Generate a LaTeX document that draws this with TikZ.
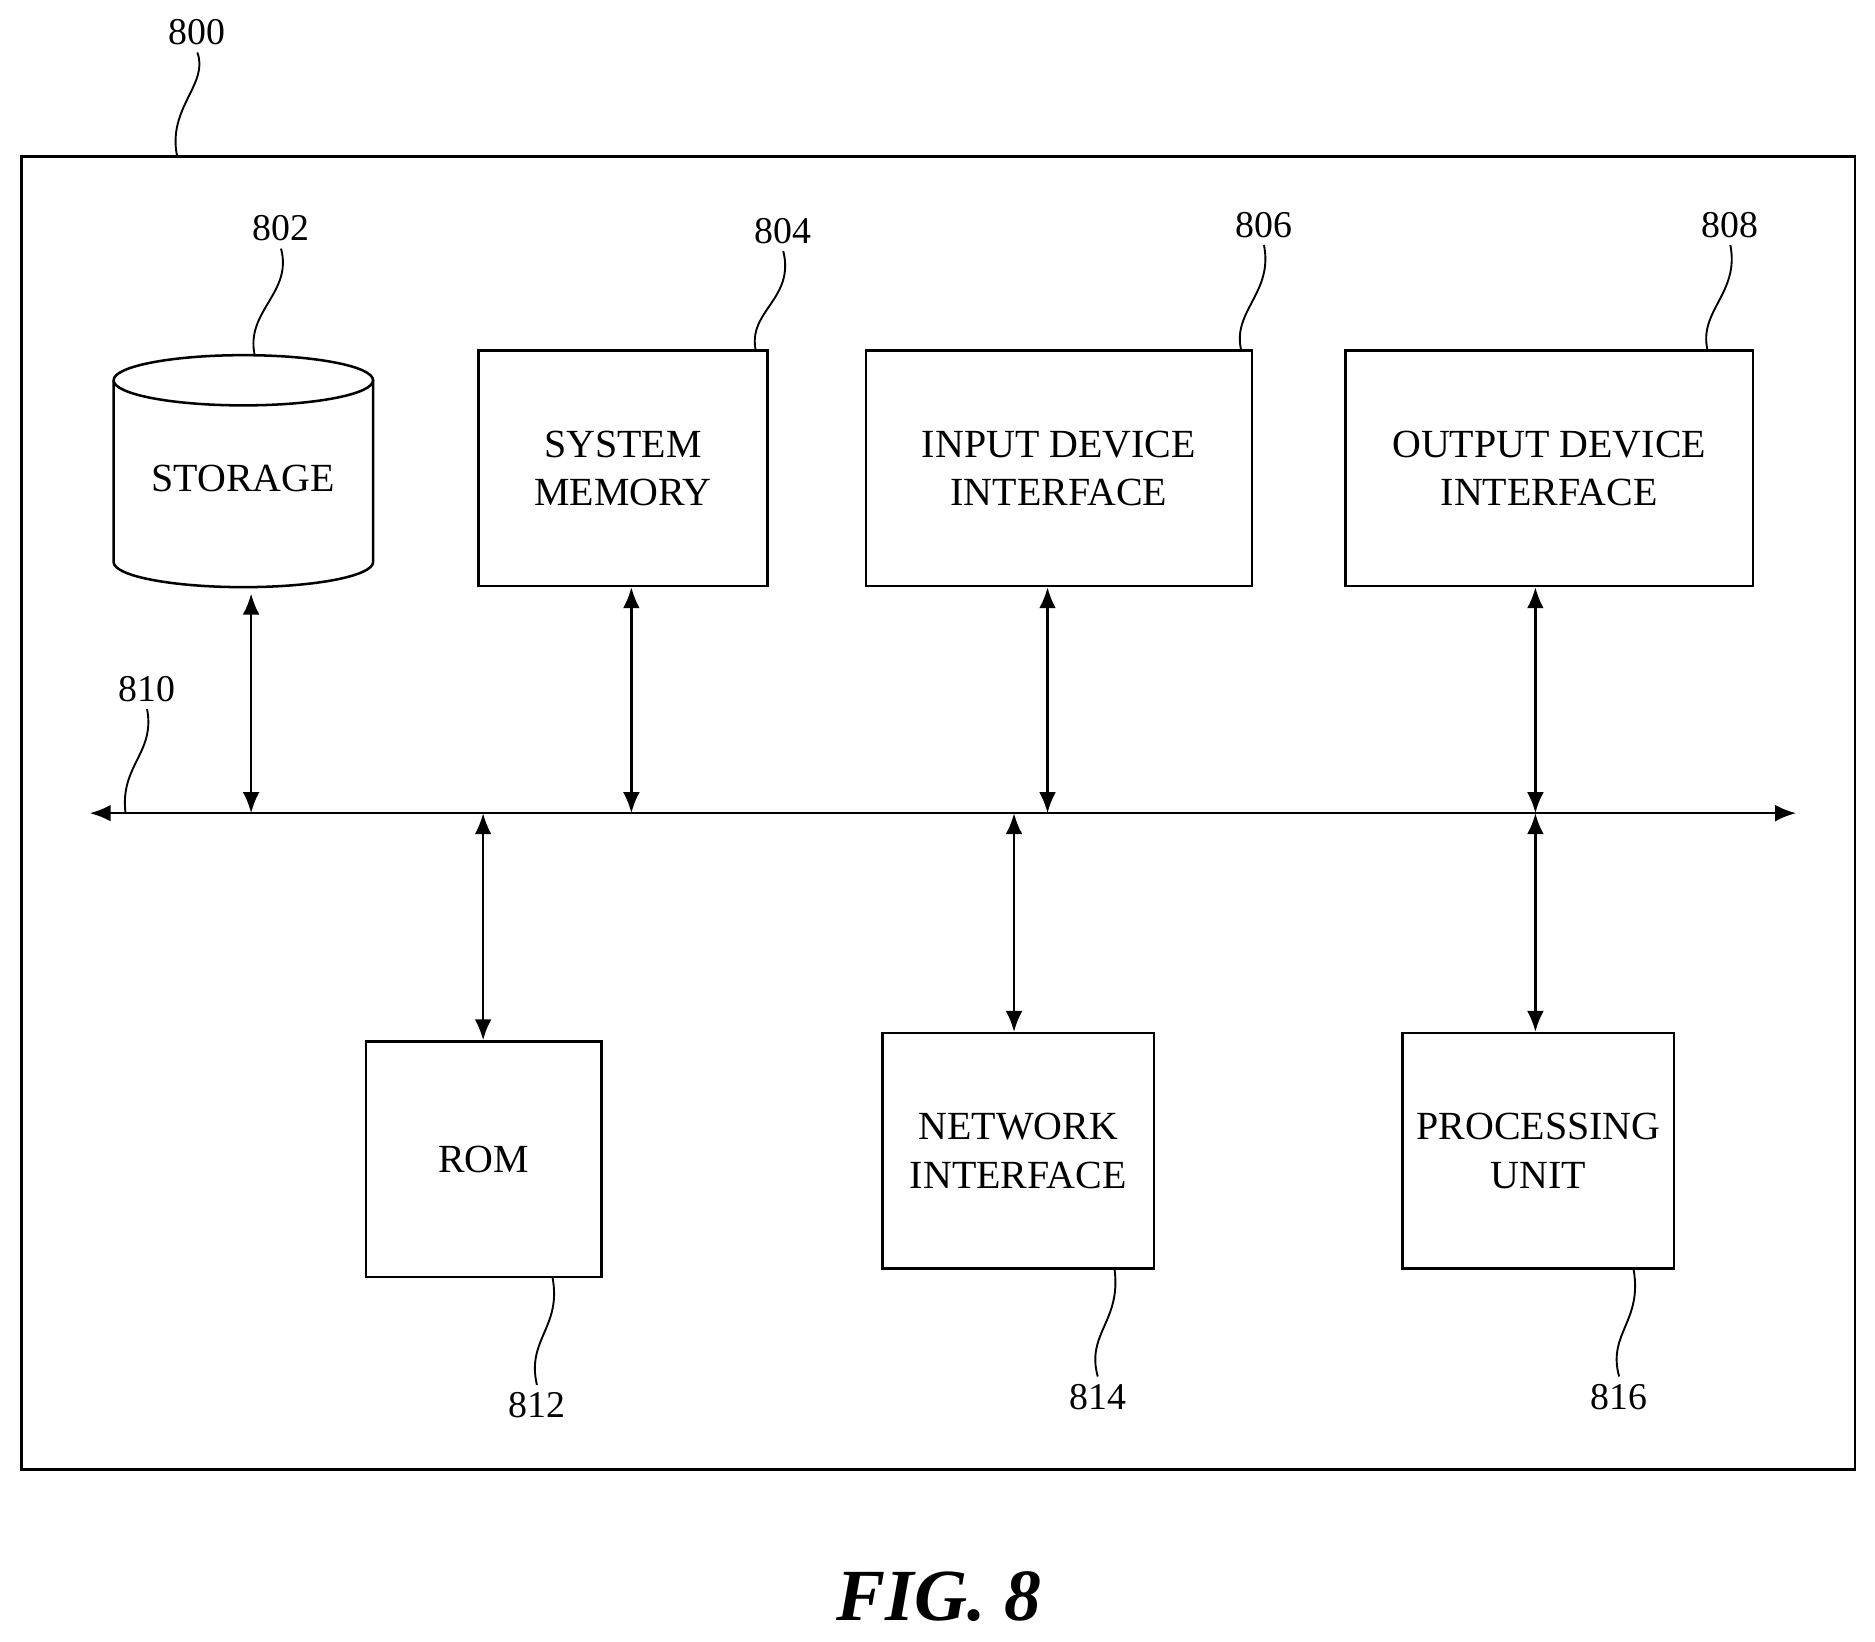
\documentclass[tikz,border=0pt]{standalone}
\usepackage{fontspec}
\setmainfont{Liberation Serif}
\usetikzlibrary{arrows.meta}
\begin{document}
\begin{tikzpicture}[x=0.02cm,y=-0.02cm,
  box/.style={draw,line width=1.2pt,minimum width=#1,inner sep=0pt,align=center,font=\fontsize{19}{23}\selectfont},
  lab/.style={font=\fontsize{18}{20}\selectfont},
  lead/.style={line width=0.9pt},
  arr/.style={line width=1.2pt,{Latex[length=10pt,width=8pt]}-{Latex[length=10pt,width=8pt]}}]
\useasboundingbox (0,0) rectangle (1568,1373);
\node[draw,line width=1.2pt,minimum width=1533*0.02cm,minimum height=1098*0.02cm,anchor=north west] (frame) at (17,130) {};
% storage cylinder
\draw[line width=1.2pt] (95,318) -- (95,470) arc[start angle=180,end angle=360,x radius=108.5,y radius=-21] -- (312,318);
\draw[line width=1.2pt] (203.5,318) ellipse[x radius=108.5,y radius=21];
\node[font=\fontsize{19}{23}\selectfont,minimum width=217*0.02cm,minimum height=192*0.02cm] (sto) at (203.5,400) {STORAGE};
\node[box,minimum width=242*0.02cm,minimum height=197*0.02cm] (mem) at (521,391.5) {SYSTEM\\MEMORY};
\node[box,minimum width=323*0.02cm,minimum height=197*0.02cm] (in) at (885.5,391.5) {INPUT DEVICE\\INTERFACE};
\node[box,minimum width=341*0.02cm,minimum height=197*0.02cm] (out) at (1295.5,391.5) {OUTPUT DEVICE\\INTERFACE};
\node[box,minimum width=197*0.02cm,minimum height=197*0.02cm] (rom) at (404.5,969.5) {ROM};
\node[box,minimum width=227*0.02cm,minimum height=197*0.02cm] (net) at (851.5,962.5) {NETWORK\\INTERFACE};
\node[box,minimum width=227*0.02cm,minimum height=197*0.02cm] (cpu) at (1286.5,962.5) {PROCESSING\\UNIT};
% bus
\coordinate (bl) at (75,680); \coordinate (br) at (1502,680);
\draw[arr] (bl) -- (br);
\coordinate (b1) at (210,680); \coordinate (b2) at (528,680); \coordinate (b3) at (876,680);
\coordinate (b4) at (1284,680); \coordinate (b5) at (404,680); \coordinate (b6) at (848,680);
\draw[arr] (sto.south -| b1) -- (b1);
\draw[arr] (mem.south -| b2) -- (b2);
\draw[arr] (in.south -| b3) -- (b3);
\draw[arr] (out.south -| b4) -- (b4);
\draw[arr] (b5) -- (rom.north -| b5);
\draw[arr] (b6) -- (net.north -| b6);
\draw[arr] (b4) -- (cpu.north -| b4);
% labels
\node[lab] (l800) at (165,27) {800};
\node[lab] (l802) at (235,191) {802};
\node[lab] (l804) at (655,193) {804};
\node[lab] (l806) at (1057,188) {806};
\node[lab] (l808) at (1447,188) {808};
\node[lab] (l810) at (123,576) {810};
\node[lab] (l812) at (449,1175) {812};
\node[lab] (l814) at (918,1168) {814};
\node[lab] (l816) at (1354,1168) {816};
\draw[lead] (l800.south) .. controls (175,70) and (140,90) .. (148,130);
\draw[lead] (l802.south) .. controls (245,245) and (205,260) .. (213,297);
\draw[lead] (l804.south) .. controls (665,250) and (625,260) .. (632,293);
\draw[lead] (l806.south) .. controls (1065,245) and (1030,260) .. (1038,293);
\draw[lead] (l808.south) .. controls (1455,245) and (1420,260) .. (1428,293);
\draw[lead] (l810.south) .. controls (130,630) and (100,640) .. (105,680);
\draw[lead] (l812.north) .. controls (440,1120) and (470,1110) .. (462,1068);
\draw[lead] (l814.north) .. controls (908,1115) and (938,1105) .. (932,1061);
\draw[lead] (l816.north) .. controls (1344,1115) and (1374,1105) .. (1366,1061);
\node[font=\fontsize{35}{40}\selectfont\bfseries\itshape] (fig) at (785,1335) {FIG. 8};
\end{tikzpicture}
\end{document}
